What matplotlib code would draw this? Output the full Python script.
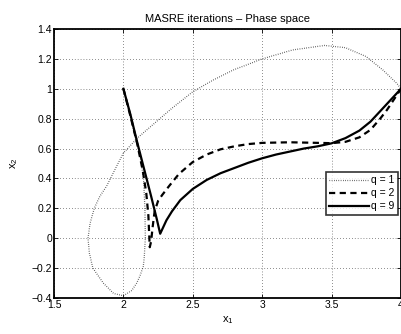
import matplotlib
matplotlib.use('Agg')
import matplotlib.pyplot as plt

plt.rcParams['font.family'] = ['Liberation Sans', 'DejaVu Sans']
plt.rcParams['mathtext.default'] = 'regular'

# q = 1 (dotted)
x_q1 = [2.0, 2.04, 2.08, 2.12, 2.145, 2.155, 2.158, 2.15, 2.143, 2.12, 2.096,
        2.06, 2.0, 1.93, 1.855, 1.78, 1.755, 1.745, 1.76, 1.79, 1.83, 1.88,
        1.95, 2.0, 2.1, 2.2, 2.35, 2.5, 2.65, 2.79, 3.0, 3.22, 3.45, 3.6,
        3.75, 3.87, 3.97, 4.0]
y_q1 = [1.0, 0.85, 0.7, 0.55, 0.4, 0.2, 0.0, -0.13, -0.19, -0.25, -0.3,
        -0.35, -0.385, -0.37, -0.3, -0.2, -0.1, 0.0, 0.1, 0.2, 0.28, 0.35,
        0.48, 0.57, 0.67, 0.75, 0.87, 0.98, 1.06, 1.125, 1.2, 1.26, 1.29, 1.275,
        1.215, 1.125, 1.036, 1.0]

# q = 2 (dashed)
x_q2 = [2.0, 2.05, 2.1, 2.14, 2.165, 2.18, 2.187, 2.19, 2.2, 2.21, 2.225,
        2.25, 2.28, 2.33, 2.4, 2.5, 2.6, 2.7, 2.8, 2.9, 3.0, 3.2, 3.4, 3.5,
        3.6, 3.7, 3.78, 3.85, 3.9, 3.95, 4.0]
y_q2 = [1.0, 0.82, 0.63, 0.45, 0.3, 0.15, 0.0, -0.06, -0.02, 0.07, 0.18,
        0.25, 0.29, 0.35, 0.43, 0.51, 0.56, 0.595, 0.615, 0.63, 0.638, 0.642,
        0.638, 0.636, 0.645, 0.675, 0.725, 0.8, 0.86, 0.93, 1.0]

# q = 9 (solid)
x_q9 = [2.0, 2.05, 2.1, 2.15, 2.2, 2.24, 2.265, 2.28, 2.31, 2.35, 2.41, 2.5,
        2.6, 2.7, 2.8, 2.9, 3.0, 3.1, 3.2, 3.3, 3.4, 3.5, 3.6, 3.7, 3.78,
        3.85, 3.9, 3.95, 4.0]
y_q9 = [1.0, 0.83, 0.64, 0.46, 0.28, 0.13, 0.03, 0.06, 0.12, 0.18, 0.255,
        0.33, 0.39, 0.435, 0.47, 0.505, 0.535, 0.56, 0.58, 0.60, 0.615, 0.635,
        0.67, 0.72, 0.78, 0.85, 0.9, 0.95, 1.0]

x_ticks = [1.5, 2, 2.5, 3, 3.5, 4]
x_tick_labels = ['1.5', '2', '2.5', '3', '3.5', '4']
y_ticks = [-0.4, -0.2, 0, 0.2, 0.4, 0.6, 0.8, 1, 1.2, 1.4]
y_tick_labels = ['\u22120.4', '\u22120.2', '0', '0.2', '0.4', '0.6', '0.8',
                 '1', '1.2', '1.4']

fig = plt.figure(figsize=(4.02, 3.34), dpi=100)
ax = fig.add_axes([54 / 402, 36 / 334, 347 / 402, 269 / 334])

ax.plot(x_q1, y_q1, color='#222222', linewidth=0.9, linestyle=(0, (0.5, 1.3)),
        label='q = 1')
ax.plot(x_q2, y_q2, color='black', linewidth=1.6, linestyle=(0, (2.8, 2.0)),
        label='q = 2')
ax.plot(x_q9, y_q9, color='black', linewidth=1.6, linestyle='-', label='q = 9')

ax.set_xlim(1.5, 4)
ax.set_ylim(-0.4, 1.4)
ax.set_xticks(x_ticks)
ax.set_xticklabels(x_tick_labels)
ax.set_yticks(y_ticks)
ax.set_yticklabels(y_tick_labels)
ax.tick_params(direction='in', length=3, width=0.6, labelsize=7.5,
               top=True, right=True, pad=1.5)
ax.grid(True, color='#444444', linestyle=(0, (0.6, 2.4)), linewidth=0.7)
for s in ax.spines.values():
    s.set_linewidth(1.3)

ax.set_title('MASRE iterations \u2013 Phase space', fontsize=8, pad=5)
ax.set_xlabel('x$_1$', fontsize=8, labelpad=3)
ax.set_ylabel('x$_2$', fontsize=8, labelpad=8)

leg = ax.legend(loc='lower right', bbox_to_anchor=(0.99, 0.31), fontsize=7.5,
                frameon=True, fancybox=False, handlelength=3.8,
                handletextpad=0.2, borderpad=0.3, labelspacing=0.3,
                borderaxespad=0)
leg.get_frame().set_edgecolor('black')
leg.get_frame().set_linewidth(1.2)

plt.savefig('out.png', dpi=100)
